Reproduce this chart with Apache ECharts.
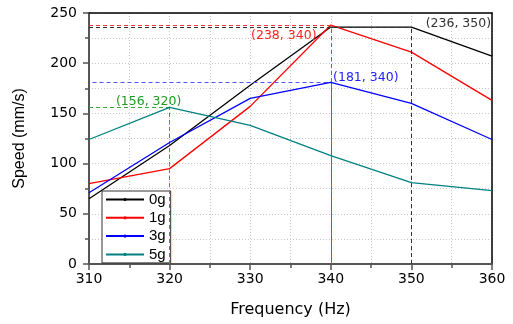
<!DOCTYPE html>
<html>
<head>
<meta charset="utf-8">
<script src="https://cdn.jsdelivr.net/npm/echarts@6/dist/echarts.min.js"></script>
<style>
    html, body { margin: 0; padding: 0; background: #fff; }
    #chart { width: 513px; height: 324px; }
</style>
</head>
<body>
<div id="chart"></div>
<script>
// speed vs frequency for each load
var frequency = [310, 320, 330, 340, 350, 360];
var speed0g = [65, 118, 178, 236, 236, 207];
var speed1g = [80, 95, 157, 238, 211, 163];
var speed3g = [71, 121, 165, 181, 160, 124];
var speed5g = [124, 156, 138, 108, 81, 73];

var seriesNames = ['0g', '1g', '3g', '5g'];
var seriesColors = ['#000000', '#ff0000', '#0000ff', '#008080'];
var guideColors = ['#333333', '#ff3333', '#5555ff', '#33aa33'];
var labelColors = ['#333333', '#ff2222', '#2222ff', '#229922'];
var dashShift = [0, 0, 3.5, 0];

// peak points (speed, frequency)
var peakSpeed = [236, 238, 181, 156];
var peakFreq = [350, 340, 340, 320];
// where each peak label sits relative to its point
var labelOffset = [[47, -3], [-47, 11], [35, -5], [-21, -6]];

var xTicks = { min: 310, max: 360, interval: 10 };
var yTicks = { min: 0, max: 250, interval: 50 };

var allSpeeds = [speed0g, speed1g, speed3g, speed5g];

function pairs(values) {
    var out = [];
    for (var i = 0; i < frequency.length; i++) {
        out.push([frequency[i], values[i]]);
    }
    return out;
}

function makeSeries(i) {
    var f = peakFreq[i];
    var v = peakSpeed[i];
    return {
        name: seriesNames[i],
        type: 'line',
        data: pairs(allSpeeds[i]),
        symbol: 'circle',
        symbolSize: 3,
        showSymbol: false,
        z: 3 + i,
        color: seriesColors[i],
        lineStyle: { width: 1.3, color: seriesColors[i] },
        markLine: {
            silent: true,
            symbol: ['none', 'none'],
            label: { show: false },
            lineStyle: { type: [4, 3], dashOffset: dashShift[i], width: 1, color: guideColors[i] },
            data: [
                [{ coord: [xTicks.min, v] }, { coord: [f, v] }],
                [{ coord: [f, yTicks.min] }, { coord: [f, v] }]
            ]
        },
        markPoint: {
            silent: true,
            symbol: 'circle',
            symbolSize: 0,
            label: {
                show: true,
                position: 'inside',
                offset: labelOffset[i],
                color: labelColors[i],
                fontFamily: 'DejaVu Sans',
                fontSize: 12.5,
                formatter: '(' + v + ', ' + f + ')'
            },
            data: [{ coord: [f, v] }]
        }
    };
}

var series = [];
for (var i = 0; i < seriesNames.length; i++) {
    series.push(makeSeries(i));
}

var gridLine = { show: true, lineStyle: { color: '#c8c8c8', type: [1, 2], width: 1 } };

var option = {
    animation: false,
    backgroundColor: '#fff',
    grid: { left: 89, right: 21, top: 13, bottom: 60 },
    legend: {
        data: seriesNames,
        orient: 'vertical',
        left: 102,
        top: 191,
        itemWidth: 38,
        itemHeight: 4,
        itemGap: 3.3,
        padding: [1, 5, 1, 3],
        backgroundColor: '#fff',
        borderColor: '#333',
        borderWidth: 1,
        borderRadius: 0,
        textStyle: { fontFamily: 'Liberation Sans', fontSize: 15, lineHeight: 15, color: '#000' }
    },
    xAxis: [{
        type: 'value',
        min: xTicks.min,
        max: xTicks.max,
        interval: xTicks.interval,
        name: 'Frequency (Hz)',
        nameLocation: 'middle',
        nameGap: 38,
        nameTextStyle: { fontFamily: 'DejaVu Sans', fontSize: 16, color: '#000' },
        axisLine: { show: true, onZero: false, lineStyle: { color: '#555', width: 2 } },
        axisTick: { show: true, inside: false, length: 6, lineStyle: { color: '#555', width: 1.5 } },
        minorTick: { show: true, splitNumber: 2, length: 4, lineStyle: { color: '#555', width: 1.5 } },
        axisLabel: { margin: 8, fontFamily: 'DejaVu Sans', fontSize: 14, color: '#000' },
        splitLine: gridLine,
        minorSplitLine: gridLine
    }, {
        type: 'value',
        position: 'top',
        min: xTicks.min,
        max: xTicks.max,
        axisLine: { show: true, onZero: false, lineStyle: { color: '#000', width: 1.5 } },
        axisTick: { show: false },
        axisLabel: { show: false },
        splitLine: { show: false }
    }],
    yAxis: [{
        type: 'value',
        min: yTicks.min,
        max: yTicks.max,
        interval: yTicks.interval,
        name: 'Speed (mm/s)',
        nameLocation: 'middle',
        nameGap: 61,
        nameTextStyle: { fontFamily: 'Liberation Sans', fontSize: 16, color: '#000' },
        axisLine: { show: true, onZero: false, lineStyle: { color: '#555', width: 2 } },
        axisTick: { show: true, inside: false, length: 6, lineStyle: { color: '#555', width: 1.5 } },
        minorTick: { show: true, splitNumber: 2, length: 4, lineStyle: { color: '#555', width: 1.5 } },
        axisLabel: { margin: 12, fontFamily: 'DejaVu Sans', fontSize: 14, color: '#000' },
        splitLine: gridLine,
        minorSplitLine: gridLine
    }, {
        type: 'value',
        position: 'right',
        min: yTicks.min,
        max: yTicks.max,
        axisLine: { show: true, onZero: false, lineStyle: { color: '#000', width: 1.5 } },
        axisTick: { show: false },
        axisLabel: { show: false },
        splitLine: { show: false }
    }],
    series: series
};

var chart = echarts.init(document.getElementById('chart'), null, { renderer: 'canvas' });
chart.setOption(option);
</script>
</body>
</html>
